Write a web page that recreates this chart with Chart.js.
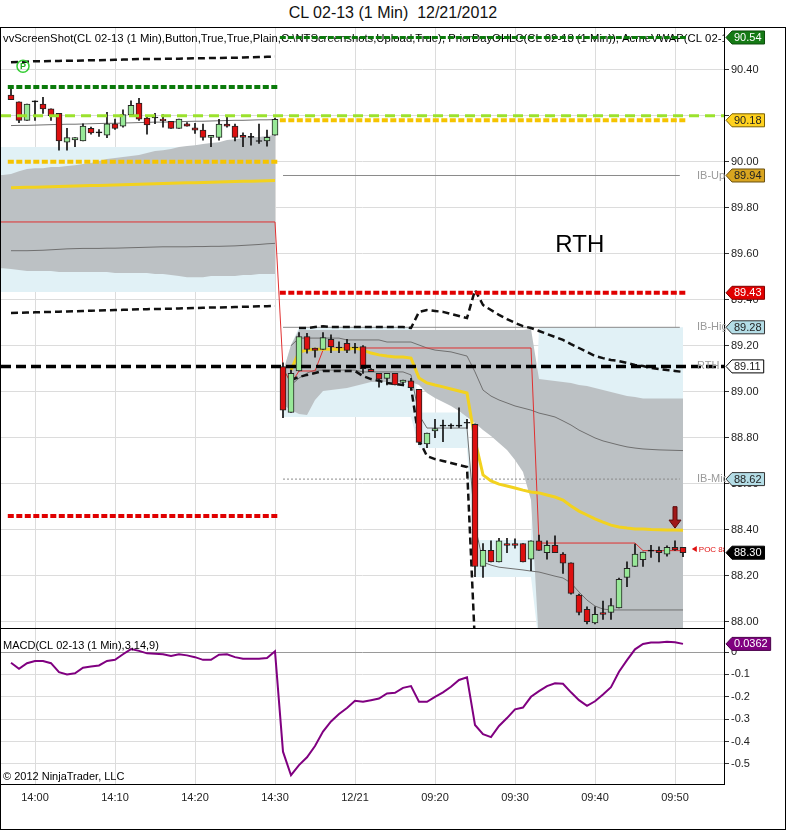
<!DOCTYPE html>
<html>
<head>
<meta charset="utf-8">
<script src="https://cdn.jsdelivr.net/npm/chart.js@4.4.1/dist/chart.umd.min.js"></script>
<style>
html,body{margin:0;padding:0;background:#fff;}
#wrap{position:relative;width:786px;height:830px;font-family:"Liberation Sans",Arial,sans-serif;}
#title{position:absolute;top:3px;left:0;width:786px;text-align:center;font-size:16px;line-height:20px;white-space:pre;color:#111;}
#frame{position:absolute;top:27px;left:0;width:786px;height:803px;border:1px solid #000;box-sizing:border-box;}
#sep{position:absolute;top:628px;left:0;width:725px;height:1px;background:#000;}
#main{position:absolute;top:28px;left:1px;}
#macd{position:absolute;top:629px;left:1px;}
</style>
</head>
<body>
<div id="wrap">
  <div id="title">CL 02-13 (1 Min)  12/21/2012</div>
  <div id="frame"></div>
  <canvas id="main" width="785" height="600"></canvas>
  <div id="sep"></div>
  <canvas id="macd" width="785" height="200"></canvas>
</div>
<script>
// ---- categories (1 min bars: prior session tail + 12/21 morning)
function minutes(start, n) {
  const [h, m] = start.split(':').map(Number);
  const out = [];
  for (let k = 0; k < n; k++) {
    const t = h * 60 + m + k;
    out.push(String(Math.floor(t / 60)).padStart(2, '0') + ':' + String(t % 60).padStart(2, '0'));
  }
  return out;
}
const times = [...minutes('13:57', 34), ...minutes('09:01', 51)];
const sessionStart = 34;
const sessionDate = '12/21';

// ---- price bars
const open = [90.29,90.26,90.18,90.26,90.25,90.23,90.21,90.085,90.095,90.09,90.145,90.125,90.115,90.165,90.155,90.205,90.255,90.19,90.19,90.185,90.175,90.145,90.165,90.147,90.137,90.106,90.106,90.164,90.155,90.115,90.106,90.088,90.09,90.115,
  89.109,88.91,89.09,89.24,89.19,89.184,89.228,89.19,89.21,89.19,89.196,89.097,89.08,89.058,89.08,89.04,89.047,89.01,88.773,88.83,88.85,88.85,88.85,88.863,88.858,88.24,88.31,88.26,88.34,88.34,88.34,88.272,88.352,88.30,88.332,88.294,88.256,88.116,88.054,87.995,88.04,88.04,88.06,88.193,88.24,88.27,88.307,88.31,88.294,88.323,88.323];
const high = [90.33,90.26,90.25,90.265,90.28,90.23,90.21,90.145,90.105,90.165,90.15,90.14,90.215,90.185,90.225,90.265,90.275,90.20,90.21,90.205,90.175,90.185,90.17,90.167,90.164,90.115,90.184,90.193,90.164,90.126,90.123,90.164,90.138,90.19,
  89.126,89.094,89.257,89.254,89.19,89.257,89.247,89.217,89.228,89.21,89.20,89.10,89.08,89.08,89.08,89.05,89.058,89.01,88.82,88.88,88.877,88.86,88.93,88.88,88.86,88.34,88.352,88.363,88.363,88.36,88.34,88.352,88.377,88.352,88.373,88.30,88.256,88.12,88.065,88.065,88.09,88.10,88.19,88.26,88.338,88.303,88.332,88.326,88.33,88.352,88.323];
const low = [90.27,90.17,90.18,90.18,90.21,90.18,90.05,90.05,90.065,90.09,90.12,90.11,90.105,90.14,90.15,90.20,90.18,90.12,90.165,90.15,90.145,90.145,90.155,90.123,90.094,90.065,90.094,90.15,90.09,90.065,90.072,90.08,90.068,90.115,
  88.887,88.91,89.09,89.167,89.15,89.184,89.17,89.17,89.17,89.167,89.08,89.087,89.02,89.03,89.03,89.03,89.01,88.77,88.757,88.80,88.783,88.84,88.845,88.84,88.196,88.193,88.26,88.26,88.30,88.32,88.26,88.222,88.31,88.272,88.30,88.21,88.12,88.03,87.99,87.99,88.01,88.01,88.06,88.152,88.24,88.24,88.28,88.26,88.285,88.31,88.283];
const close = [90.27,90.18,90.25,90.26,90.23,90.20,90.09,90.105,90.105,90.155,90.125,90.125,90.165,90.145,90.205,90.245,90.185,90.16,90.19,90.178,90.145,90.185,90.155,90.137,90.106,90.115,90.164,90.154,90.106,90.106,90.106,90.088,90.106,90.184,
  88.92,89.08,89.24,89.184,89.18,89.235,89.196,89.19,89.18,89.19,89.10,89.087,89.054,89.08,89.03,89.05,89.017,88.78,88.82,88.84,88.85,88.85,88.85,88.863,88.24,88.31,88.26,88.352,88.332,88.332,88.26,88.352,88.31,88.332,88.30,88.254,88.123,88.04,88.00,88.032,88.032,88.07,88.184,88.232,88.294,88.303,88.307,88.30,88.323,88.312,88.30];

// ---- MACD(3,14,9)
const macd = [-0.048,-0.075,-0.05,-0.04,-0.04,-0.05,-0.09,-0.10,-0.095,-0.07,-0.065,-0.06,-0.04,-0.035,-0.01,0.013,0.005,-0.006,-0.008,-0.01,-0.018,-0.01,-0.015,-0.023,-0.035,-0.035,-0.012,-0.01,-0.023,-0.03,-0.03,-0.03,-0.027,0.003,
  -0.445,-0.55,-0.505,-0.47,-0.42,-0.355,-0.31,-0.277,-0.25,-0.218,-0.222,-0.215,-0.208,-0.185,-0.182,-0.16,-0.152,-0.222,-0.222,-0.2,-0.18,-0.155,-0.125,-0.113,-0.326,-0.367,-0.38,-0.33,-0.295,-0.256,-0.248,-0.2,-0.175,-0.152,-0.14,-0.142,-0.18,-0.215,-0.24,-0.22,-0.19,-0.157,-0.088,-0.036,0.012,0.036,0.042,0.042,0.046,0.044,0.0362];

// ---- prior session VWAP study (bands start 2 bars before the first visible bar)
const priorBandStart = -2;
const bandTopPrior = [89.942,89.942,89.946,89.959,89.968,89.972,89.972,89.977,89.977,89.981,89.985,89.99,89.994,90.003,90.012,90.016,90.02,90.025,90.029,90.038,90.046,90.05,90.055,90.064,90.068,90.072,90.077,90.081,90.085,90.094,90.098,90.103,90.107,90.107,90.112,90.116];
const bandBotPrior = [89.537,89.537,89.533,89.529,89.525,89.525,89.525,89.525,89.52,89.52,89.52,89.52,89.52,89.52,89.52,89.516,89.516,89.516,89.516,89.516,89.512,89.512,89.507,89.503,89.498,89.498,89.498,89.503,89.503,89.503,89.503,89.507,89.507,89.512,89.512,89.512];
const outerPrior = [90.064, 89.433];
const vwapPrior = [89.887,89.888,89.889,89.889,89.89,89.891,89.892,89.893,89.894,89.895,89.896,89.897,89.898,89.899,89.9,89.901,89.902,89.903,89.904,89.905,89.906,89.907,89.908,89.909,89.91,89.911,89.912,89.913,89.914,89.915,89.915,89.916,89.917,89.918];
const thinUpPrior = [90.157,90.158,90.158,90.159,90.16,90.161,90.162,90.163,90.163,90.164,90.165,90.166,90.167,90.167,90.168,90.169,90.17,90.171,90.172,90.172,90.173,90.174,90.175,90.176,90.176,90.177,90.178,90.179,90.18,90.18,90.181,90.182,90.182,90.183];
const thinLoPrior = [89.613,89.613,89.613,89.614,89.615,89.617,89.619,89.621,89.622,89.623,89.623,89.623,89.624,89.624,89.625,89.626,89.627,89.628,89.629,89.63,89.63,89.63,89.63,89.631,89.631,89.632,89.632,89.633,89.634,89.636,89.638,89.64,89.643,89.645];
const envTopPrior = [90.432,90.434,90.435,90.437,90.437,90.438,90.438,90.439,90.439,90.44,90.441,90.441,90.442,90.443,90.444,90.445,90.446,90.446,90.447,90.447,90.448,90.448,90.449,90.45,90.45,90.451,90.451,90.452,90.452,90.453,90.454,90.455,90.456,90.457];
const envBotPrior = [89.342,89.343,89.344,89.345,89.346,89.347,89.348,89.349,89.35,89.351,89.352,89.353,89.354,89.355,89.356,89.357,89.358,89.359,89.36,89.36,89.361,89.362,89.363,89.364,89.365,89.366,89.366,89.367,89.368,89.369,89.37,89.371,89.372,89.373];
const redPrior = 89.738;

// ---- 12/21 session VWAP study (bars 34..84)
const vwapToday = [null,89.094,89.172,89.181,89.185,89.185,89.185,89.185,89.185,89.19,89.181,89.168,89.16,89.155,89.151,89.151,89.146,89.06,89.038,89.029,89.021,89.012,89.003,88.994,88.79,88.638,88.612,88.598,88.59,88.581,88.572,88.564,88.56,88.551,88.542,88.529,88.503,88.481,88.464,88.447,88.433,88.42,88.412,88.407,88.403,88.403,88.401,88.4,88.399,88.399,88.398];
const bandTopToday = [89.086,89.203,89.268,89.268,89.268,89.268,89.268,89.268,89.268,89.268,89.268,89.268,89.268,89.268,89.268,89.268,89.268,89.268,89.268,89.268,89.268,89.268,89.268,89.268,89.268,89.268,89.268,89.268,89.268,89.268,89.268,89.273,89.055,89.051,89.047,89.042,89.038,89.029,89.025,89.016,89.007,88.999,88.99,88.981,88.977,88.97,88.97,88.97,88.97,88.97,88.97];
const bandBotToday = [88.942,88.92,88.903,88.899,88.964,89.003,89.007,89.012,89.016,89.025,89.034,89.042,89.042,89.042,89.042,89.042,89.042,89.029,88.994,88.973,88.955,88.938,88.916,88.89,88.864,88.833,88.807,88.777,88.747,88.703,88.651,88.529,87.9,87.9,87.9,87.9,87.9,87.9,87.9,87.9,87.9,87.9,87.9,87.9,87.9,87.9,87.9,87.9,87.9,87.9,87.9];
const outerTopToday = [89.086,89.203,89.28,89.28,89.28,89.28,89.28,89.28,89.28,89.28,89.28,89.28,89.28,89.28,89.28,89.28,89.28,88.91,88.91,88.91,88.91,88.91,88.91,88.91,88.355,88.355,88.355,88.355,88.355,88.355,88.355,88.355,89.28,89.28,89.28,89.28,89.28,89.28,89.28,89.28,89.28,89.28,89.28,89.28,89.28,89.28,89.28,89.28,89.28,89.28,89.28];
const outerBotToday = [88.89,88.89,88.89,88.89,88.89,88.89,88.89,88.89,88.89,88.89,88.89,88.89,88.89,88.89,88.89,88.89,88.89,88.755,88.755,88.755,88.755,88.755,88.755,88.755,88.194,88.194,88.194,88.194,88.194,88.194,88.194,88.194,87.9,87.9,87.9,87.9,87.9,87.9,87.9,87.9,87.9,87.9,87.9,87.9,87.9,87.9,87.9,87.9,87.9,87.9,87.9];
const thinUpToday = [null,89.2,89.233,89.233,89.233,89.233,89.233,89.233,89.225,89.225,89.225,89.225,89.225,89.216,89.216,89.216,89.216,89.203,89.19,89.181,89.177,89.173,89.164,89.155,89.086,89.007,88.981,88.964,88.951,88.938,88.929,88.92,88.907,88.899,88.89,88.873,88.855,88.833,88.816,88.799,88.786,88.777,88.768,88.76,88.755,88.751,88.749,88.747,88.746,88.745,88.744];
const thinLoToday = [null,89.029,89.059,89.081,89.094,89.094,89.094,89.094,89.094,89.094,89.086,89.086,89.086,89.086,89.086,89.086,89.073,88.899,88.842,88.842,88.842,88.842,88.842,88.842,88.42,88.259,88.246,88.237,88.233,88.229,88.225,88.22,88.216,88.207,88.198,88.19,88.168,88.129,88.094,88.068,88.055,88.051,88.051,88.051,88.051,88.051,88.051,88.051,88.051,88.051,88.051];
const envTopToday = [null,null,89.277,89.277,89.281,89.285,89.281,89.281,89.281,89.281,89.281,89.281,89.281,89.281,89.281,89.281,89.277,89.347,89.355,89.351,89.347,89.338,89.329,89.32,89.442,89.377,89.355,89.334,89.316,89.299,89.285,89.277,89.264,89.251,89.238,89.225,89.207,89.19,89.173,89.155,89.146,89.138,89.133,89.125,89.116,89.112,89.103,89.099,89.094,89.09,89.086];
const envBotToday = [null,89.051,89.064,89.073,89.081,89.09,89.09,89.09,89.09,89.09,89.068,89.055,89.047,89.038,89.034,89.029,89.021,88.79,88.72,88.707,88.699,88.69,88.681,88.673,87.9,null,null,null,null,null,null,null,null,null,null,null,null,null,null,null,null,null,null,null,null,null,null,null,null,null,null];
const redToday = [89.103,89.035,89.09,89.09,89.09,89.181,89.19,89.19,89.19,89.19,89.19,89.19,89.19,89.19,89.19,89.19,89.19,89.19,89.19,89.19,89.19,89.19,89.19,89.19,89.19,89.19,89.19,89.19,89.19,89.19,89.19,89.19,88.342,88.342,88.342,88.342,88.342,88.342,88.342,88.342,88.342,88.342,88.342,88.342,88.342,88.309,88.309,88.309,88.309,88.309,88.309];

// ---- horizontal levels
const priorDayLevels = [90.325, 90.00, 88.46];   // green, yellow, red (12/20)
const todayLevels = [90.54, 90.18, 89.43];       // green, yellow, red (12/21)
const ibLevels = [89.94, 89.28, 88.62];          // IB-Up, IB-High, IB-Mid
const openLevel = 90.20;
const rthLevel = 89.11;

const priceTicks = [88.00,88.20,88.40,88.60,88.80,89.00,89.20,89.40,89.60,89.80,90.00,90.20,90.40];
const hiddenPriceTicks = [90.20];
const macdTicks = [0,-0.1,-0.2,-0.3,-0.4,-0.5];

// ---- layout constants
const FONT = '"Liberation Sans", Arial, sans-serif';
const X_MIN = -1.25, X_MAX = 89.125;
const priorSpan = [-0.4, 33.6], todaySpan = [33.6, 84.6], ibSpan = [34, 83.6];
const LB = '#e1f1f6', GRAY = '#bcc1c4';

const tickBars = times.map((t, i) => t.endsWith('0') ? i : -1).filter(i => i >= 0);
const firstTodayTick = tickBars.find(i => i >= sessionStart);
const tickLabel = v => v === firstTodayTick ? sessionDate : times[v];

const pts = (arr, start) => arr.map((v, k) => ({x: start + k, y: v}));
const seg = (p, a, b) => [{x: a, y: p}, {x: b, y: p}];
function line(data, color, width, dash, order, extra) {
  return Object.assign({type: 'line', data, borderColor: color, borderWidth: width, borderDash: dash || [],
    pointRadius: 0, fill: false, tension: 0, order, spanGaps: false}, extra || {});
}
function band(top, bot, color, order) {
  return [line(top, 'rgba(0,0,0,0)', 0, null, order, {fill: '+1', backgroundColor: color}),
          line(bot, 'rgba(0,0,0,0)', 0, null, order)];
}

const upC = '#98e898', dnC = '#dd1010';
const bodyColors = open.map((o, i) => close[i] > o ? upC : close[i] < o ? dnC : '#000');
const last = close.length - 1;

function xAxis(showLabels) {
  return {
    type: 'linear', min: X_MIN, max: X_MAX, offset: false,
    afterBuildTicks: s => { s.ticks = tickBars.map(v => ({value: v})); },
    grid: {color: '#dcdcdc', drawTicks: false, offset: false},
    border: {display: showLabels, color: '#000'},
    ticks: {display: showLabels, autoSkip: false, maxRotation: 0, padding: 7, color: '#222',
      font: {size: 11, family: FONT}, callback: v => tickLabel(v)},
    afterFit: s => { s.height = showLabels ? 45 : 0; s.paddingLeft = 0; s.paddingRight = 0; }
  };
}

function drawFlag(ctx, x, y, text, bg, fg, border) {
  ctx.save();
  ctx.font = '11px ' + FONT;
  const w = ctx.measureText(text).width + 5, h = 13;
  ctx.beginPath();
  ctx.moveTo(x, y);
  ctx.lineTo(x + 6, y - h / 2);
  ctx.lineTo(x + 6 + w, y - h / 2);
  ctx.lineTo(x + 6 + w, y + h / 2);
  ctx.lineTo(x + 6, y + h / 2);
  ctx.closePath();
  ctx.fillStyle = bg; ctx.fill();
  ctx.strokeStyle = border; ctx.lineWidth = 1; ctx.stroke();
  ctx.fillStyle = fg; ctx.textBaseline = 'middle'; ctx.textAlign = 'left';
  ctx.fillText(text, x + 8, y + 0.5);
  ctx.restore();
}

const mainFlags = [
  {v: todayLevels[0], t: todayLevels[0].toFixed(2), bg: '#157a15', fg: '#fff', bd: '#0b4d0b'},
  {v: todayLevels[1], t: todayLevels[1].toFixed(2), bg: '#ffd21f', fg: '#222', bd: '#7a6000'},
  {v: ibLevels[0], t: ibLevels[0].toFixed(2), bg: '#d9a520', fg: '#222', bd: '#6a5010', side: 'IB-Up'},
  {v: todayLevels[2], t: todayLevels[2].toFixed(2), bg: '#e00000', fg: '#fff', bd: '#800000'},
  {v: ibLevels[1], t: ibLevels[1].toFixed(2), bg: '#b4dde6', fg: '#222', bd: '#333', side: 'IB-High'},
  {v: rthLevel, t: rthLevel.toFixed(2), bg: '#fff', fg: '#222', bd: '#000', side: 'RTH'},
  {v: ibLevels[2], t: ibLevels[2].toFixed(2), bg: '#b4dde6', fg: '#222', bd: '#333', side: 'IB-Mid'},
  {v: close[last], t: close[last].toFixed(2), bg: '#000', fg: '#fff', bd: '#000'}
];

const mainOverlay = {
  id: 'mainOverlay',
  beforeDatasetsDraw(chart) {
    const {ctx, chartArea: a} = chart;
    ctx.save();
    ctx.beginPath(); ctx.rect(a.left, a.top, a.right - a.left, a.bottom - a.top); ctx.clip();
    ctx.font = '11.3px ' + FONT; ctx.fillStyle = '#000'; ctx.textBaseline = 'middle';
    ctx.fillText('vvScreenShot(CL 02-13 (1 Min),Button,True,True,Plain,C:\\NTScreenshots,Upload,True), PriorDayOHLC(CL 02-13 (1 Min)), AcmeVWAP(CL 02-13 (1 Min))', 2, 11);
    ctx.restore();
  },
  afterDraw(chart) {
    const {ctx, chartArea: a} = chart;
    const x = chart.scales.x, y = chart.scales.y;
    ctx.save();
    // RTH caption
    ctx.font = '24px ' + FONT; ctx.fillStyle = '#000'; ctx.textAlign = 'center'; ctx.textBaseline = 'middle';
    ctx.fillText('RTH', x.getPixelForValue(71.1), y.getPixelForValue(89.637));
    // P marker
    const px = x.getPixelForValue(1.5), py = y.getPixelForValue(90.415);
    ctx.beginPath(); ctx.arc(px, py, 6, 0, Math.PI * 2);
    ctx.strokeStyle = '#33cc33'; ctx.lineWidth = 1.5; ctx.stroke();
    ctx.font = 'bold 9px ' + FONT; ctx.fillStyle = '#22aa22';
    ctx.fillText('P', px, py + 0.5);
    // down arrow over the last bars
    const ax = x.getPixelForValue(83), a0 = y.getPixelForValue(88.50), a1 = y.getPixelForValue(88.407);
    ctx.beginPath();
    ctx.moveTo(ax - 2, a0); ctx.lineTo(ax + 2, a0); ctx.lineTo(ax + 2, a1 - 8); ctx.lineTo(ax + 6, a1 - 8);
    ctx.lineTo(ax, a1); ctx.lineTo(ax - 6, a1 - 8); ctx.lineTo(ax - 2, a1 - 8); ctx.closePath();
    ctx.fillStyle = '#a01818'; ctx.fill(); ctx.strokeStyle = '#5a0a0a'; ctx.lineWidth = 1; ctx.stroke();
    // POC tag (clipped by the axis)
    ctx.save();
    ctx.beginPath(); ctx.rect(a.left, a.top, a.right - a.left, a.bottom - a.top); ctx.clip();
    const cx = x.getPixelForValue(85.1), cy = y.getPixelForValue(88.316);
    ctx.beginPath(); ctx.moveTo(cx, cy); ctx.lineTo(cx + 5, cy - 3); ctx.lineTo(cx + 5, cy + 3); ctx.closePath();
    ctx.fillStyle = '#e01010'; ctx.fill();
    ctx.font = '8px ' + FONT; ctx.textAlign = 'left';
    ctx.fillText('POC 88.31', cx + 7, cy + 0.5);
    ctx.restore();
    // side captions and price flags
    ctx.save();
    ctx.beginPath(); ctx.rect(0, 0, a.right + 2, chart.height); ctx.clip();
    ctx.font = '11px ' + FONT; ctx.fillStyle = '#9a9a9a'; ctx.textAlign = 'left'; ctx.textBaseline = 'middle';
    mainFlags.forEach(f => { if (f.side) ctx.fillText(f.side, a.right - 27, y.getPixelForValue(f.v)); });
    ctx.restore();
    mainFlags.forEach(f => drawFlag(ctx, a.right + 2, y.getPixelForValue(f.v), f.t, f.bg, f.fg, f.bd));
    ctx.restore();
  }
};

const datasets = [
  // light blue outer bands
  ...band(seg(outerPrior[0], priorBandStart, 33), seg(outerPrior[1], priorBandStart, 33), LB, 14),
  ...band(pts(outerTopToday, sessionStart), pts(outerBotToday, sessionStart), LB, 14),
  // grey inner bands
  ...band(pts(bandTopPrior, priorBandStart), pts(bandBotPrior, priorBandStart), GRAY, 12),
  ...band(pts(bandTopToday, sessionStart), pts(bandBotToday, sessionStart), GRAY, 12),
  // IB levels
  line(seg(ibLevels[0], ibSpan[0], ibSpan[1]), '#8a8a8a', 1, null, 10),
  line(seg(ibLevels[1], ibSpan[0], ibSpan[1]), '#8a8a8a', 1, null, 10),
  line(seg(ibLevels[2], ibSpan[0], ibSpan[1]), '#8a8a8a', 1, [2, 2], 10),
  // thin deviation lines
  line(pts(thinUpPrior, 0), '#707070', 1, null, 9),
  line(pts(thinLoPrior, 0), '#707070', 1, null, 9),
  line(pts(thinUpToday, sessionStart), '#707070', 1, null, 9),
  line(pts(thinLoToday, sessionStart), '#707070', 1, null, 9),
  // red value line
  line([...seg(redPrior, priorBandStart, 33), ...pts(redToday, sessionStart)], '#e03030', 1, null, 8),
  // VWAP
  line(pts(vwapPrior, 0), '#f2d21f', 3, null, 7),
  line(pts(vwapToday, sessionStart), '#f2d21f', 3, null, 7),
  // envelopes
  line(pts(envTopPrior, 0), '#111', 2.5, [7, 4], 6),
  line(pts(envBotPrior, 0), '#111', 2.5, [7, 4], 6),
  line(pts(envTopToday, sessionStart), '#111', 2.5, [7, 4], 6),
  line(pts(envBotToday, sessionStart), '#111', 2.5, [7, 4], 6),
  // candles: wicks then bodies
  {type: 'bar', data: low.map((l, i) => ({x: i, y: [l, high[i]]})), backgroundColor: '#111',
    barThickness: 1, grouped: false, borderWidth: 0, order: 5},
  {type: 'bar', data: open.map((o, i) => ({x: i, y: [o, close[i]]})), backgroundColor: bodyColors,
    borderColor: '#222', borderWidth: 1, borderSkipped: false, barThickness: 6, minBarLength: 1,
    grouped: false, order: 4},
  // horizontal levels
  line(seg(priorDayLevels[0], priorSpan[0], priorSpan[1]), '#0b7a0b', 4, [6, 2.5], 2),
  line(seg(priorDayLevels[1], priorSpan[0], priorSpan[1]), '#f5c400', 4, [6, 2.5], 2),
  line(seg(priorDayLevels[2], priorSpan[0], priorSpan[1]), '#e00000', 4, [6, 2.5], 2),
  line(seg(todayLevels[0], todaySpan[0], todaySpan[1]), '#0b7a0b', 3, [6, 2], 2),
  line(seg(todayLevels[1], todaySpan[0], todaySpan[1]), '#f5c400', 4, [6, 2.5], 2),
  line(seg(todayLevels[2], todaySpan[0], todaySpan[1]), '#e00000', 4, [6, 2.5], 2),
  line(seg(openLevel, X_MIN, X_MAX), '#9be22d', 3, [10, 6], 1),
  line(seg(rthLevel, X_MIN, X_MAX), '#000', 3.5, [10, 5], 1)
];

new Chart(document.getElementById('main'), {
  type: 'line',
  data: {datasets},
  options: {
    responsive: false, animation: false, devicePixelRatio: 1, events: [],
    layout: {padding: 0},
    plugins: {legend: {display: false}, tooltip: {enabled: false}},
    scales: {
      x: xAxis(false),
      y: {
        type: 'linear', position: 'right', min: 87.9726, max: 90.5813,
        afterBuildTicks: s => { s.ticks = priceTicks.map(v => ({value: v})); },
        grid: {color: '#dcdcdc', tickColor: '#333', tickLength: 5},
        border: {display: true, color: '#000'},
        ticks: {padding: 2, color: '#222', font: {size: 11, family: FONT},
          callback: v => hiddenPriceTicks.includes(v) ? '' : v.toFixed(2)},
        afterFit: s => { s.width = 62; s.paddingTop = 0; s.paddingBottom = 0; }
      }
    }
  },
  plugins: [mainOverlay]
});

const macdOverlay = {
  id: 'macdOverlay',
  afterDraw(chart) {
    const {ctx, chartArea: a} = chart;
    const y = chart.scales.y;
    ctx.save();
    ctx.font = '11px ' + FONT; ctx.fillStyle = '#000'; ctx.textBaseline = 'middle'; ctx.textAlign = 'left';
    ctx.fillText('MACD(CL 02-13 (1 Min),3,14,9)', 2, 17);
    ctx.fillText('\u00A9 2012 NinjaTrader, LLC', 2, 148);
    drawFlag(ctx, a.right + 2, y.getPixelForValue(macd[last]), macd[last].toFixed(4), '#800080', '#fff', '#4a004a');
    ctx.restore();
  }
};

new Chart(document.getElementById('macd'), {
  type: 'line',
  data: {datasets: [line(pts(macd, 0), '#800080', 2, null, 1)]},
  options: {
    responsive: false, animation: false, devicePixelRatio: 1, events: [],
    layout: {padding: 0},
    plugins: {legend: {display: false}, tooltip: {enabled: false}},
    scales: {
      x: xAxis(true),
      y: {
        type: 'linear', position: 'right', min: -0.5893, max: 0.1027,
        afterBuildTicks: s => { s.ticks = macdTicks.map(v => ({value: v})); },
        grid: {color: c => (c.tick && c.tick.value === 0) ? '#9a9a9a' : '#dcdcdc', tickColor: '#333', tickLength: 5},
        border: {display: true, color: '#000'},
        ticks: {padding: 2, color: '#222', font: {size: 11, family: FONT}, callback: v => v === 0 ? '0' : v.toFixed(1)},
        afterFit: s => { s.width = 62; s.paddingTop = 0; s.paddingBottom = 0; }
      }
    }
  },
  plugins: [macdOverlay]
});
</script>
</body>
</html>
